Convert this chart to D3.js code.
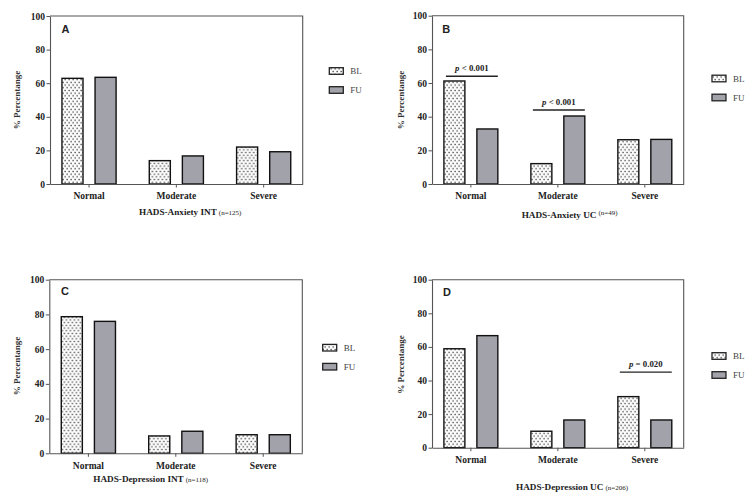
<!DOCTYPE html>
<html>
<head>
<meta charset="utf-8">
<script src="https://cdn.jsdelivr.net/npm/d3@7"></script>
<style>
  body { margin: 0; background: #fff; }
  svg { display: block; }
</style>
</head>
<body>
<svg id="chart" width="754" height="492"></svg>
<script>
// ---------- data ----------
const categories = ["Normal", "Moderate", "Severe"];
const seriesNames = ["BL", "FU"];
const yTicks = [0, 20, 40, 60, 80, 100];

const anxietyIntBL = [62.9, 13.9, 22.0];
const anxietyIntFU = [63.5, 16.7, 19.2];
const anxietyUcBL  = [61.2, 12.1, 26.3];
const anxietyUcFU  = [32.7, 40.4, 26.5];
const depressionIntBL = [78.7, 10.0, 10.7];
const depressionIntFU = [76.0, 12.7, 10.7];
const depressionUcBL  = [58.9, 9.8, 30.4];
const depressionUcFU  = [66.7, 16.5, 16.5];

const panelLetters = ["A", "B", "C", "D"];
const panelTitles = ["HADS-Anxiety INT", "HADS-Anxiety UC", "HADS-Depression INT", "HADS-Depression UC"];
const panelN = ["(n=125)", "(n=49)", "(n=118)", "(n=206)"];
const yTitle = "% Percentange";

// significance annotations: [panelIndex, category, yValue, operator, pValue]
const annotations = [
  [1, "Normal", 64, "<", "0.001"],
  [1, "Moderate", 44, "<", "0.001"],
  [3, "Severe", 45, "=", "0.020"]
];

// ---------- layout (positions only) ----------
const panels = [
  { bl: anxietyIntBL, fu: anxietyIntFU, left: 50, right: 302.7, top: 16, bottom: 184,
    legX: 329.3, legY: 71, titleX: 139, titleY: 215, yTitleX: 17, yTitleY: 100,
    letterX: 61.5, letterY: 33, sup: false },
  { bl: anxietyUcBL, fu: anxietyUcFU, left: 432, right: 683.7, top: 15.7, bottom: 184,
    legX: 712, legY: 78.5, titleX: 521.7, titleY: 218, yTitleX: 400.5, yTitleY: 100,
    letterX: 442.3, letterY: 33, sup: true },
  { bl: depressionIntBL, fu: depressionIntFU, left: 49.3, right: 302.3, top: 279.7, bottom: 453.3,
    legX: 322.7, legY: 347.7, titleX: 93.3, titleY: 482, yTitleX: 17, yTitleY: 366,
    letterX: 61, letterY: 294.5, sup: false },
  { bl: depressionUcBL, fu: depressionUcFU, left: 432, right: 683.7, top: 279.7, bottom: 447.7,
    legX: 712, legY: 356, titleX: 516, titleY: 489.5, yTitleX: 401, yTitleY: 364.5,
    letterX: 443, letterY: 296, sup: false }
];

const serif = "'Liberation Serif', 'Times New Roman', serif";
const sans = "'Liberation Sans', Arial, sans-serif";
const fuFill = "#a2a2aa";
const axisColor = "#555";

const svg = d3.select("#chart");
svg.append("rect").attr("width", 754).attr("height", 492).attr("fill", "#fff");

// dotted pattern for BL
const defs = svg.append("defs");
const pat = defs.append("pattern").attr("id", "dots")
  .attr("patternUnits", "userSpaceOnUse").attr("width", 4).attr("height", 5.4);
pat.append("rect").attr("width", 4).attr("height", 5.4).attr("fill", "#fff");
pat.append("rect").attr("x", 0.5).attr("y", 0.7).attr("width", 1.3).attr("height", 1.3).attr("fill", "#333");
pat.append("rect").attr("x", 2.5).attr("y", 3.4).attr("width", 1.3).attr("height", 1.3).attr("fill", "#333");

const fills = { BL: "url(#dots)", FU: fuFill };

panels.forEach((p, pi) => {
  const g = svg.append("g");
  const y = d3.scaleLinear().domain([0, 100]).range([p.bottom, p.top]);
  const x0 = d3.scaleBand().domain(categories).range([p.left, p.right])
    .paddingInner(0.38).paddingOuter(0.137);
  const x1 = d3.scaleBand().domain(seriesNames).range([0, x0.bandwidth()]).paddingInner(0.364);

  const rows = categories.map((c, i) => ({ cat: c, vals: [
    { s: "BL", v: p.bl[i] }, { s: "FU", v: p.fu[i] }] }));

  // bars
  g.selectAll("g.cat").data(rows).join("g")
    .attr("transform", d => `translate(${x0(d.cat)},0)`)
    .selectAll("rect").data(d => d.vals).join("rect")
    .attr("x", d => x1(d.s))
    .attr("y", d => y(d.v))
    .attr("width", x1.bandwidth())
    .attr("height", d => y(0) - y(d.v))
    .attr("fill", d => fills[d.s])
    .attr("stroke", "#111")
    .attr("stroke-width", 1.4);

  // frame (top and right)
  g.append("path")
    .attr("d", `M${p.left},${p.top}H${p.right}V${p.bottom}`)
    .attr("fill", "none").attr("stroke", axisColor).attr("stroke-width", 1.1);

  // y axis
  const yAxis = g.append("g").attr("transform", `translate(${p.left},0)`)
    .call(d3.axisLeft(y).tickValues(yTicks).tickSize(3.5).tickPadding(1.5).tickSizeOuter(0));
  yAxis.select(".domain").attr("stroke", axisColor).attr("stroke-width", 1.1);
  yAxis.selectAll(".tick line").attr("stroke", axisColor).attr("stroke-width", 1);
  yAxis.selectAll(".tick text").attr("font-family", serif).attr("font-weight", "bold")
    .attr("font-size", 9.5).attr("fill", "#222");

  // x axis
  const xAxis = g.append("g").attr("transform", `translate(0,${p.bottom})`)
    .call(d3.axisBottom(x0).tickSize(3.5).tickPadding(5).tickSizeOuter(0));
  xAxis.select(".domain").attr("stroke", axisColor).attr("stroke-width", 1.1);
  xAxis.selectAll(".tick line").attr("stroke", axisColor).attr("stroke-width", 1);
  xAxis.selectAll(".tick text").attr("font-family", serif).attr("font-weight", "bold")
    .attr("font-size", 9.5).attr("fill", "#222");

  // panel letter
  g.append("text").attr("x", p.letterX).attr("y", p.letterY)
    .attr("font-family", sans).attr("font-weight", "bold").attr("font-size", 11)
    .attr("fill", "#222").text(panelLetters[pi]);

  // y title
  g.append("text")
    .attr("transform", `translate(${p.yTitleX},${p.yTitleY}) rotate(-90)`)
    .attr("text-anchor", "middle").attr("dy", "0.35em")
    .attr("font-family", serif).attr("font-weight", "bold").attr("font-size", 9)
    .attr("fill", "#333").text(yTitle);

  // x title
  const t = g.append("text").attr("x", p.titleX).attr("y", p.titleY)
    .attr("font-family", serif).attr("fill", "#222");
  t.append("tspan").attr("font-weight", "bold").attr("font-size", 9.2).text(panelTitles[pi]);
  t.append("tspan").attr("font-size", 7).attr("dx", 2)
    .attr("dy", p.sup ? -3.5 : 0).text(panelN[pi]);

  // legend
  seriesNames.forEach((s, si) => {
    const ly = p.legY + si * 19;
    g.append("rect").attr("x", p.legX).attr("y", ly - 3.3).attr("width", 14).attr("height", 6.6)
      .attr("fill", fills[s]).attr("stroke", "#222").attr("stroke-width", 1.3);
    g.append("text").attr("x", p.legX + 21).attr("y", ly).attr("dy", "0.35em")
      .attr("font-family", serif).attr("font-size", 9).attr("fill", "#444").text(s);
  });

  // annotations
  annotations.filter(a => a[0] === pi).forEach(a => {
    const xs = x0(a[1]) + 2, xe = x0(a[1]) + x0.bandwidth();
    const ly = y(a[2]);
    g.append("line").attr("x1", xs).attr("x2", xe).attr("y1", ly).attr("y2", ly)
      .attr("stroke", "#222").attr("stroke-width", 1.4);
    const at = g.append("text").attr("x", (xs + xe) / 2).attr("y", ly - 5)
      .attr("text-anchor", "middle").attr("font-family", serif).attr("font-weight", "bold")
      .attr("font-size", 8.8).attr("fill", "#222");
    at.append("tspan").attr("font-style", "italic").text("p");
    at.append("tspan").text(` ${a[3]} ${a[4]}`);
  });
});
</script>
</body>
</html>
